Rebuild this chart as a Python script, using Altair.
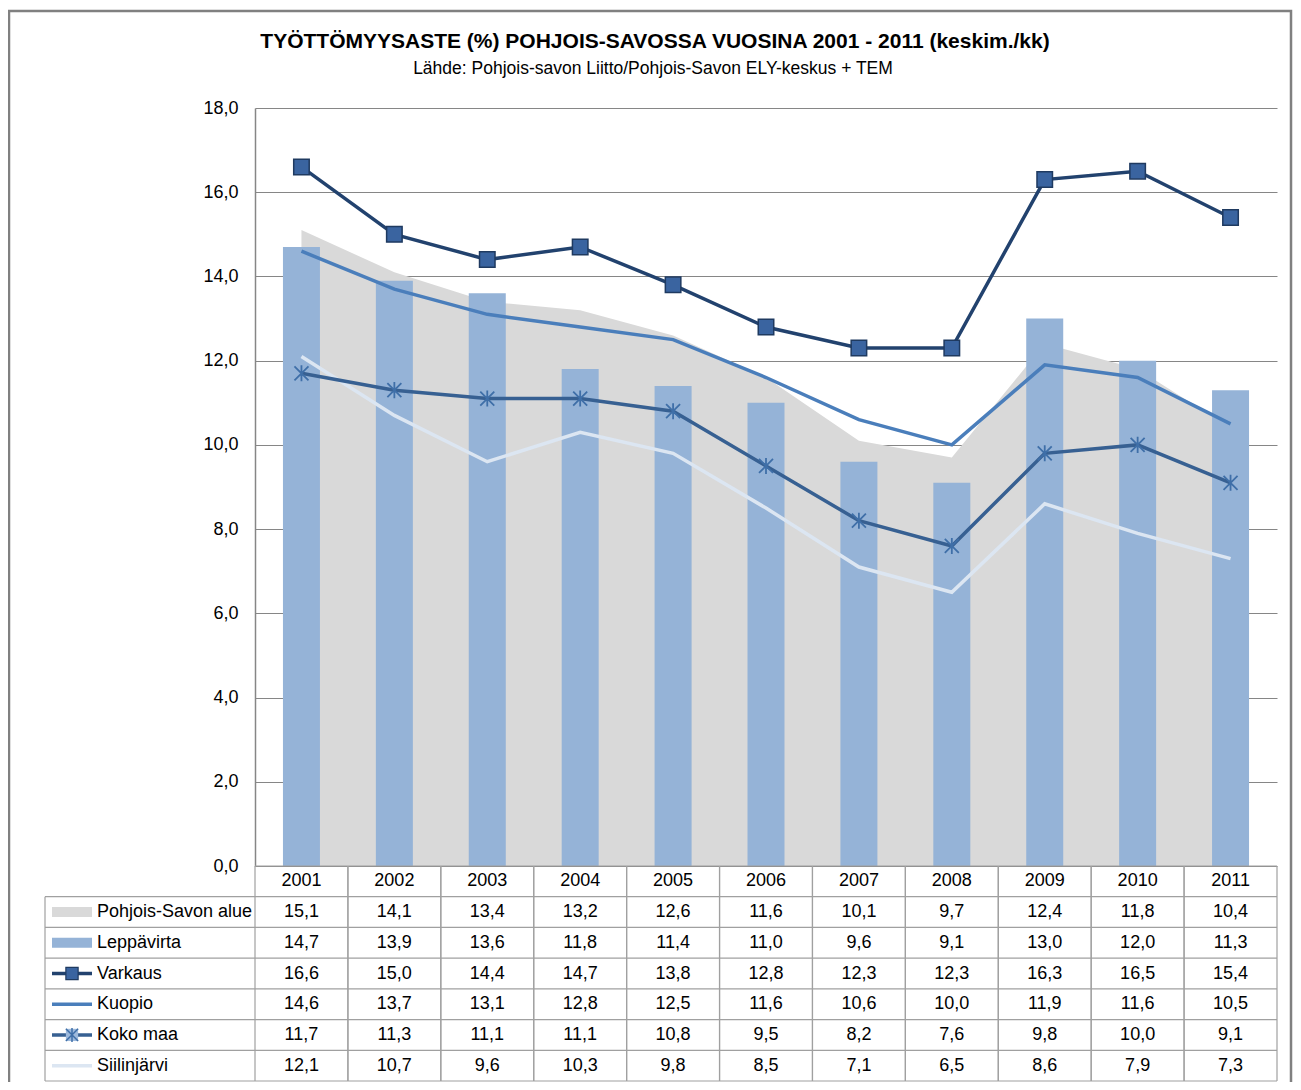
import altair as alt
import pandas as pd

years = ["2001", "2002", "2003", "2004", "2005", "2006", "2007", "2008", "2009", "2010", "2011"]
pohjois_savo = [15.1, 14.1, 13.4, 13.2, 12.6, 11.6, 10.1, 9.7, 12.4, 11.8, 10.4]
leppavirta = [14.7, 13.9, 13.6, 11.8, 11.4, 11.0, 9.6, 9.1, 13.0, 12.0, 11.3]
varkaus = [16.6, 15.0, 14.4, 14.7, 13.8, 12.8, 12.3, 12.3, 16.3, 16.5, 15.4]
kuopio = [14.6, 13.7, 13.1, 12.8, 12.5, 11.6, 10.6, 10.0, 11.9, 11.6, 10.5]
koko_maa = [11.7, 11.3, 11.1, 11.1, 10.8, 9.5, 8.2, 7.6, 9.8, 10.0, 9.1]
siilinjarvi = [12.1, 10.7, 9.6, 10.3, 9.8, 8.5, 7.1, 6.5, 8.6, 7.9, 7.3]

series_names = ["Pohjois-Savon alue", "Leppävirta", "Varkaus", "Kuopio", "Koko maa", "Siilinjärvi"]
series_values = [pohjois_savo, leppavirta, varkaus, kuopio, koko_maa, siilinjarvi]

title_text = "TYÖTTÖMYYSASTE (%) POHJOIS-SAVOSSA VUOSINA 2001 - 2011 (keskim./kk)"
subtitle_text = "Lähde: Pohjois-savon Liitto/Pohjois-Savon ELY-keskus + TEM"

FONT = "Liberation Sans"
W, H = 1022, 758
TH = 215
rows = ["header"] + series_names

C_AREA = "#D9D9D9"
C_BAR = "#95B3D7"
C_VARK_LINE = "#22426E"
C_VARK_FILL = "#3A64A0"
C_KUOP = "#4A7EBB"
C_KOKO = "#376092"
C_KOKO_MARK = "#3F6FA8"
C_SIIL = "#DCE6F2"
GRID = "#868686"
TABLE_LINE = "#A0A0A0"

records = []
for name, vals in zip(series_names, series_values):
    for y, v in zip(years, vals):
        records.append({"year": y, "series": name, "value": v,
                        "label": f"{v:.1f}".replace(".", ","), "row": name})
df = pd.DataFrame(records)

xscale = alt.Scale(domain=years, paddingInner=0, paddingOuter=0)
X = alt.X("year:N", scale=xscale, axis=None)
yscale = alt.Scale(domain=[0, 18])
Yplot = alt.Y("value:Q", scale=yscale,
              axis=alt.Axis(values=list(range(0, 19, 2)),
                            labelExpr="replace(format(datum.value, '.1f'), '.', ',')",
                            grid=True, gridColor=GRID, gridWidth=1, gridOpacity=1,
                            domainColor=GRID, domainWidth=1.5, ticks=False,
                            labelPadding=17, labelFontSize=18, labelFont=FONT,
                            labelColor="black", title=None))

def sel(name):
    return df[df.series == name]

area = alt.Chart(sel("Pohjois-Savon alue")).mark_area(color=C_AREA, opacity=1).encode(x=X, y=Yplot)
bars = alt.Chart(sel("Leppävirta")).mark_bar(color=C_BAR, size=37).encode(x=X, y=Yplot)
siil = alt.Chart(sel("Siilinjärvi")).mark_line(color=C_SIIL, strokeWidth=3.5).encode(x=X, y=Yplot)
kuop = alt.Chart(sel("Kuopio")).mark_line(color=C_KUOP, strokeWidth=3.5).encode(x=X, y=Yplot)
koko_l = alt.Chart(sel("Koko maa")).mark_line(color=C_KOKO, strokeWidth=3.5).encode(x=X, y=Yplot)
STAR = "M-1,-1L1,1M-1,1L1,-1M0,-1.15L0,1.15"
koko_p = alt.Chart(sel("Koko maa")).mark_point(shape=STAR, size=196, filled=False,
                                              color=C_KOKO_MARK, strokeWidth=1.8, opacity=1).encode(x=X, y=Yplot)
vark_l = alt.Chart(sel("Varkaus")).mark_line(color=C_VARK_LINE, strokeWidth=3.5).encode(x=X, y=Yplot)
vark_p = alt.Chart(sel("Varkaus")).mark_point(shape="square", size=240, filled=True, fill=C_VARK_FILL,
                                              stroke="#1F3A60", strokeWidth=1.5, opacity=1).encode(x=X, y=Yplot)

plot = alt.layer(area, bars, siil, kuop, koko_l, koko_p, vark_l, vark_p)

# ---- data table below the plot ----
tscale = alt.Scale(domain=rows, range=[H, H + TH], paddingInner=0, paddingOuter=0)
def TY(**kw):
    return alt.Y("row:N", scale=tscale, axis=None, **kw)

year_df = pd.DataFrame({"year": years, "row": "header"})
row_df = pd.DataFrame({"row": rows})
label_df = pd.DataFrame({"row": series_names})

vlines0 = alt.Chart(year_df).mark_rule(color=TABLE_LINE, strokeWidth=1.2).encode(
    x=alt.X("year:N", scale=xscale, axis=None, bandPosition=0),
    y=alt.value(H), y2=alt.value(H + TH))
vlines1 = alt.Chart(year_df).mark_rule(color=TABLE_LINE, strokeWidth=1.2).encode(
    x=alt.X("year:N", scale=xscale, axis=None, bandPosition=1),
    y=alt.value(H), y2=alt.value(H + TH))
hlines = alt.Chart(row_df).mark_rule(color=TABLE_LINE, strokeWidth=1.2).encode(
    y=TY(bandPosition=1), x=alt.value(-210), x2=alt.value(W))
header_top = alt.Chart(year_df.head(1)).mark_rule(color=TABLE_LINE, strokeWidth=1.2).encode(
    y=alt.value(H), x=alt.value(0), x2=alt.value(W))
left_line = alt.Chart(year_df.head(1)).mark_rule(color=TABLE_LINE, strokeWidth=1.2).encode(
    x=alt.value(-210), y=alt.value(H + TH / 7), y2=alt.value(H + TH))

header_txt = alt.Chart(year_df).mark_text(font=FONT, fontSize=18, color="black", baseline="middle").encode(
    x=alt.X("year:N", scale=xscale, axis=None), y=TY(), text="year:N")
cell_txt = alt.Chart(df).mark_text(font=FONT, fontSize=18, color="black", baseline="middle").encode(
    x=alt.X("year:N", scale=xscale, axis=None), y=TY(), text="label:N")
row_lbl = alt.Chart(label_df).mark_text(font=FONT, fontSize=18, color="black", baseline="middle",
                                        align="left").encode(
    x=alt.value(-158), y=TY(), text="row:N")

# legend keys in the table
sym_df = pd.DataFrame({
    "row": series_names,
    "color": [C_AREA, C_BAR, C_VARK_LINE, C_KUOP, C_KOKO, C_SIIL],
    "sw": [10, 10, 3.5, 3.5, 3.5, 3.5],
})
keys = alt.Chart(sym_df).mark_rule().encode(
    y=TY(), x=alt.value(-203), x2=alt.value(-163),
    color=alt.Color("color:N", scale=None), strokeWidth=alt.StrokeWidth("sw:Q", scale=None))
key_sq = alt.Chart(sym_df[sym_df.row == "Varkaus"]).mark_point(
    shape="square", size=150, filled=True, fill=C_VARK_FILL, stroke="#1F3A60", strokeWidth=1.2, opacity=1).encode(
    y=TY(), x=alt.value(-183))
key_star_bg = alt.Chart(sym_df[sym_df.row == "Koko maa"]).mark_point(
    shape="square", size=150, filled=True, fill="#9DB9DC", opacity=1, strokeWidth=0).encode(
    y=TY(), x=alt.value(-183))
key_star = alt.Chart(sym_df[sym_df.row == "Koko maa"]).mark_point(
    shape=STAR, size=150, filled=False, color=C_KOKO_MARK, strokeWidth=1.5, opacity=1).encode(
    y=TY(), x=alt.value(-183))

# title and outer frame
one = pd.DataFrame({"k": [0]})
title_m = alt.Chart(one).mark_text(font=FONT, fontSize=21, fontWeight="bold", color="black",
                                   baseline="middle", align="center").encode(
    x=alt.value(400), y=alt.value(-66), text=alt.value(title_text))
sub_m = alt.Chart(one).mark_text(font=FONT, fontSize=17.5, color="black",
                                 baseline="middle", align="center").encode(
    x=alt.value(398), y=alt.value(-39), text=alt.value(subtitle_text))
frame = alt.Chart(one).mark_rect(fill=None, stroke="#808080", strokeWidth=2.5).encode(
    x=alt.value(-246), x2=alt.value(1036), y=alt.value(-97), y2=alt.value(H + TH + 40))

table = alt.layer(header_top, vlines0, vlines1, hlines, left_line, header_txt, cell_txt, row_lbl,
                  keys, key_sq, key_star_bg, key_star, title_m, sub_m, frame)

chart = alt.layer(plot, table).resolve_scale(y="independent").properties(
    width=W, height=H,
    padding={"left": 247, "top": 100, "right": 16, "bottom": TH + 1},
    autosize="none",
    background="white",
).configure_view(strokeWidth=0, stroke="transparent")

chart.save("out.html", embed_options={"renderer": "svg", "actions": False})
